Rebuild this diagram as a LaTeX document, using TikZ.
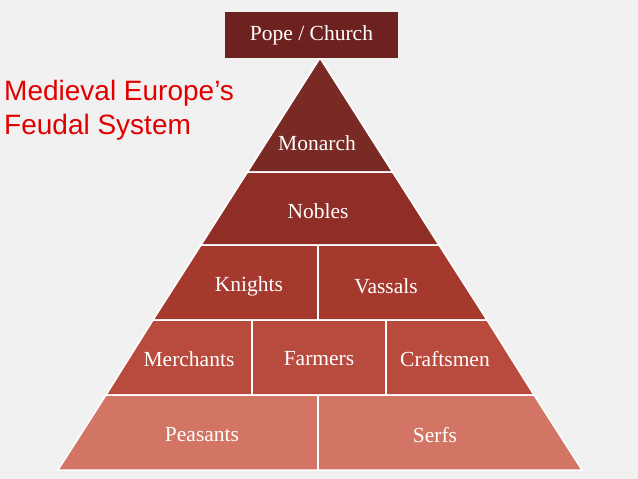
\documentclass[tikz,border=0pt]{standalone}
\usepackage{fontspec}
\setmainfont{Liberation Serif}
\newfontfamily\titlefont{Liberation Sans}
\definecolor{bgc}{HTML}{F1F1F1}
\definecolor{popec}{HTML}{6E2220}
\definecolor{tierA}{HTML}{7A2A24}
\definecolor{tierB}{HTML}{8F2E27}
\definecolor{tierC}{HTML}{A5392E}
\definecolor{tierD}{HTML}{B84B3D}
\definecolor{tierE}{HTML}{D27565}
\definecolor{titlec}{HTML}{E00000}
\begin{document}
\begin{tikzpicture}[x=1pt,y=-1pt,
    tier/.style={draw=white,line width=1.5pt},
    lbl/.style={text=white,font=\fontsize{21.5}{24}\selectfont},
    divide/.style={draw=white,line width=1.5pt}]
    \fill[bgc] (0,0) rectangle (638,479);
    \useasboundingbox (0,0) rectangle (638,479);

    % tiers
    \fill[tierA,tier] (320,58) -- (392.5,172) -- (247.5,172) -- cycle;
    \fill[tierB,tier] (247.5,172) -- (392.5,172) -- (439,245) -- (201,245) -- cycle;
    \fill[tierC,tier] (201,245) -- (439,245) -- (487,320) -- (153,320) -- cycle;
    \fill[tierD,tier] (153,320) -- (487,320) -- (534,395) -- (106,395) -- cycle;
    \fill[tierE,tier] (106,395) -- (534,395) -- (582,470) -- (58,470) -- cycle;

    % dividers
    \draw[divide] (318,245) -- (318,320);
    \draw[divide] (252,320) -- (252,395);
    \draw[divide] (386,320) -- (386,395);
    \draw[divide] (318,395) -- (318,470);

    \node[fill=popec,minimum width=173pt,minimum height=46pt,lbl] (pope) at (311.5,35) {Pope / Church};
    \node[lbl] (monarch) at (317,143) {Monarch};
    \node[lbl] (nobles) at (318,211) {Nobles};
    \node[lbl] (knights) at (249,286) {Knights};
    \node[lbl] (vassals) at (386,286) {Vassals};
    \node[lbl] (merchants) at (189,359) {Merchants};
    \node[lbl] (farmers) at (319,359) {Farmers};
    \node[lbl] (craftsmen) at (445,359) {Craftsmen};
    \node[lbl] (peasants) at (202,435) {Peasants};
    \node[lbl] (serfs) at (435,435) {Serfs};

    \node[text=titlec,font=\titlefont\fontsize{28}{34}\selectfont,align=left,anchor=north west,inner sep=0pt] (title) at (4,80) {Medieval Europe’s\\Feudal System};
\end{tikzpicture}
\end{document}
